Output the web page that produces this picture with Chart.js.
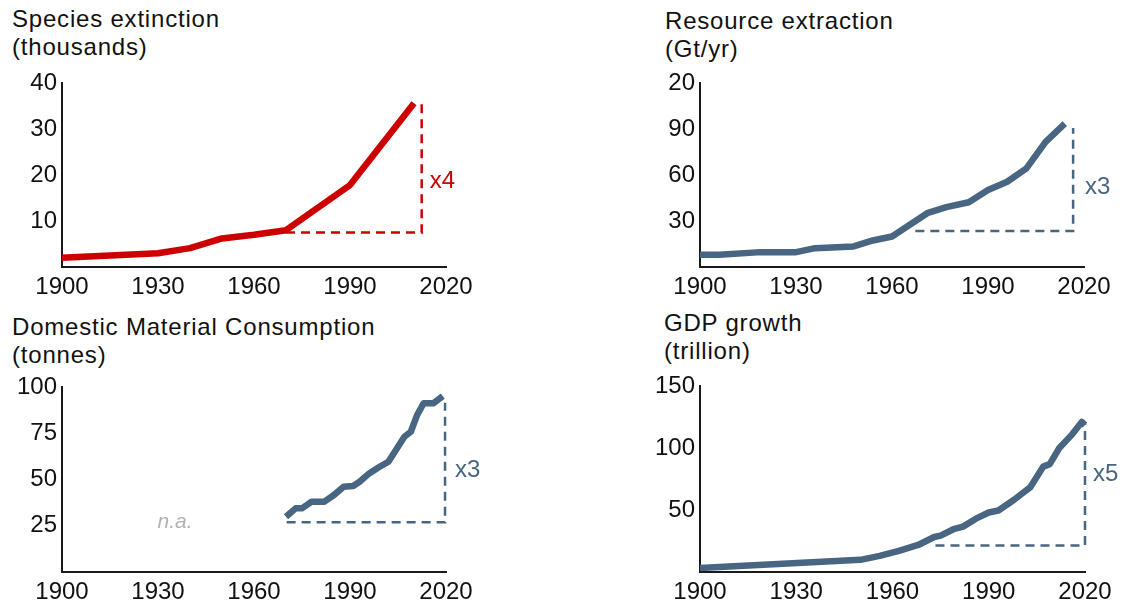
<!DOCTYPE html>
<html lang="en">
<head>
<meta charset="UTF-8">
<title>Species, resources, material use and GDP</title>
<script src="https://cdn.jsdelivr.net/npm/chart.js"></script>
<style>
  body { margin: 0; background: #fff; font-family: 'Liberation Sans', Arial, sans-serif; }
  .wrap { position: relative; width: 1125px; height: 605px; overflow: hidden; }
  .wrap canvas { position: absolute; }
  .title { position: absolute; font-size: 24px; letter-spacing: 0.8px; line-height: 28px; color: #111; white-space: nowrap; }
</style>
</head>
<body>
<div class="wrap" id="wrap"></div>
<script>
// shared x axis
const xTicks = [1900, 1930, 1960, 1990, 2020];

// Species extinction (thousands)
const speciesYears = [1900, 1930, 1940, 1950, 1960, 1970, 1990, 2010];
const speciesValues = [2.0, 3.0, 4.1, 6.2, 7.0, 8.0, 17.8, 35.6];
const speciesRefX = [1970, 2012.4, 2012.4];
const speciesRefY = [7.5, 7.5, 35.9];
const speciesTicks = [10, 20, 30, 40];
const speciesTickLabels = ['10', '20', '30', '40'];

// Resource extraction (Gt/yr)
const resourceYears = [1900, 1906, 1919, 1930, 1936, 1948, 1954, 1960, 1971, 1977, 1984, 1990, 1996, 2002, 2008, 2014];
const resourceValues = [8.0, 8.0, 9.7, 9.7, 12.3, 13.4, 17.3, 19.9, 35.1, 39.0, 42.2, 50.2, 55.6, 64.3, 81.6, 93.5];
const resourceRefX = [1967.3, 2016.6, 2016.6];
const resourceRefY = [23.5, 23.5, 90.7];
const resourceTicks = [30, 60, 90, 120];
const resourceTickLabels = ['30', '60', '90', '20'];

// Domestic Material Consumption (tonnes)
const dmcYears = [1970, 1973, 1975, 1978, 1982, 1985, 1988, 1991, 1993, 1996, 1999, 2002, 2004, 2007, 2009, 2011, 2013, 2016, 2019];
const dmcValues = [29.9, 34.4, 34.4, 38.0, 38.0, 41.6, 46.1, 46.5, 48.8, 53.3, 56.6, 59.6, 65.0, 73.1, 75.8, 84.9, 91.2, 91.2, 95.1];
const dmcRefX = [1970.2, 2019.7, 2019.7];
const dmcRefY = [26.9, 26.9, 91.5];
const dmcTicks = [25, 50, 75, 100];
const dmcTickLabels = ['25', '50', '75', '100'];

// GDP growth (trillion)
const gdpYears = [1900, 1950, 1956, 1962, 1968, 1973, 1975, 1979, 1982, 1986, 1990, 1993, 1998, 2001, 2003, 2007, 2009, 2012, 2016, 2019, 2020];
const gdpValues = [3.2, 9.8, 13.0, 17.0, 21.8, 28.2, 29.4, 34.5, 36.6, 43.0, 48.0, 49.6, 58.5, 64.5, 68.5, 85.0, 87.0, 100.0, 111.0, 121.0, 118.5];
const gdpRefX = [1973.4, 2020, 2020];
const gdpRefY = [21.3, 21.3, 119.2];
const gdpTicks = [50, 100, 150];
const gdpTickLabels = ['50', '100', '150'];

const RED = '#cc0000';
const SLATE = '#486581';
const FONT = "'Liberation Sans', Arial, sans-serif";
Chart.defaults.font.family = FONT;

const panels = [
  { title: ['Species extinction', '(thousands)'], titleAt: [12, 5],
    box: [0, 0, 480, 305], plot: [62, 83, 446, 267],
    years: speciesYears, values: speciesValues, refX: speciesRefX, refY: speciesRefY,
    yMax: 40, yTicks: speciesTicks, yLabels: speciesTickLabels, color: RED,
    notes: [{ text: 'x4', x: 2012.4, y: 18.7, dx: 8 }] },
  { title: ['Resource extraction', '(Gt/yr)'], titleAt: [665, 7],
    box: [638, 0, 487, 305], plot: [700, 83, 1084, 267],
    years: resourceYears, values: resourceValues, refX: resourceRefX, refY: resourceRefY,
    yMax: 120, yTicks: resourceTicks, yLabels: resourceTickLabels, color: SLATE,
    notes: [{ text: 'x3', x: 2016.6, y: 52, dx: 12 }] },
  { title: ['Domestic Material Consumption', '(tonnes)'], titleAt: [12, 313],
    box: [0, 305, 480, 300], plot: [62, 387, 446, 572],
    years: dmcYears, values: dmcValues, refX: dmcRefX, refY: dmcRefY,
    yMax: 100, yTicks: dmcTicks, yLabels: dmcTickLabels, color: SLATE,
    notes: [{ text: 'x3', x: 2019.7, y: 54.8, dx: 10 },
            { text: 'n.a.', x: 1935.3, y: 27, dx: 0, align: 'center', italic: true, color: '#b3b3b3', size: 21 }] },
  { title: ['GDP growth', '(trillion)'], titleAt: [664, 309],
    box: [638, 305, 487, 300], plot: [700, 386, 1085, 572],
    years: gdpYears, values: gdpValues, refX: gdpRefX, refY: gdpRefY,
    yMax: 150, yTicks: gdpTicks, yLabels: gdpTickLabels, color: SLATE,
    notes: [{ text: 'x5', x: 2020, y: 78.7, dx: 8 }] }
];

function notesPlugin(notes, color) {
  return {
    id: 'notes',
    afterDatasetsDraw(chart) {
      const ctx = chart.ctx;
      const xs = chart.scales.x, ys = chart.scales.y;
      notes.forEach(n => {
        ctx.save();
        ctx.font = (n.italic ? 'italic ' : '') + (n.size || 24) + 'px ' + FONT;
        ctx.fillStyle = n.color || color;
        ctx.textAlign = n.align || 'left';
        ctx.textBaseline = 'middle';
        ctx.fillText(n.text, xs.getPixelForValue(n.x) + n.dx, ys.getPixelForValue(n.y));
        ctx.restore();
      });
    }
  };
}

const wrap = document.getElementById('wrap');

panels.forEach(p => {
  const t = document.createElement('div');
  t.className = 'title';
  t.style.left = p.titleAt[0] + 'px';
  t.style.top = p.titleAt[1] + 'px';
  t.innerHTML = p.title.join('<br>');
  wrap.appendChild(t);

  const [bl, bt, bw, bh] = p.box;
  const [pl, pt, pr, pb] = p.plot;
  const c = document.createElement('canvas');
  c.width = bw; c.height = bh;
  c.style.left = bl + 'px'; c.style.top = bt + 'px';
  wrap.appendChild(c);

  const axisBorder = { display: true, color: '#1a1a1a', width: 2 };
  const tickFont = { family: FONT, size: 24 };

  new Chart(c, {
    type: 'line',
    data: {
      datasets: [
        { data: p.years.map((x, i) => ({ x, y: p.values[i] })),
          borderColor: p.color, borderWidth: 6.5, pointRadius: 0, tension: 0,
          borderJoinStyle: 'round', clip: false },
        { data: p.refX.map((x, i) => ({ x, y: p.refY[i] })),
          borderColor: p.color, borderWidth: 2.5, borderDash: [9, 6], pointRadius: 0,
          tension: 0, clip: false }
      ]
    },
    options: {
      responsive: false, animation: false, events: [],
      layout: { padding: { left: 0, top: pt - bt, right: (bl + bw) - pr, bottom: 0 } },
      plugins: { legend: { display: false }, tooltip: { enabled: false } },
      scales: {
        x: {
          type: 'linear', min: 1900, max: 2020,
          grid: { display: false, drawTicks: false }, border: axisBorder,
          afterBuildTicks: a => { a.ticks = xTicks.map(v => ({ value: v })); },
          afterFit: a => { a.height = (bt + bh) - pb; },
          ticks: { color: '#111', font: tickFont, padding: 6, maxRotation: 0, autoSkip: false,
                   callback: v => String(v) }
        },
        y: {
          type: 'linear', min: 0, max: p.yMax,
          grid: { display: false, drawTicks: false }, border: axisBorder,
          afterBuildTicks: a => { a.ticks = p.yTicks.map(v => ({ value: v })); },
          afterFit: a => { a.width = pl - bl; },
          ticks: { color: '#111', font: tickFont, padding: 5, callback: (v, i) => p.yLabels[i] }
        }
      }
    },
    plugins: [notesPlugin(p.notes, p.color)]
  });
});
</script>
</body>
</html>
